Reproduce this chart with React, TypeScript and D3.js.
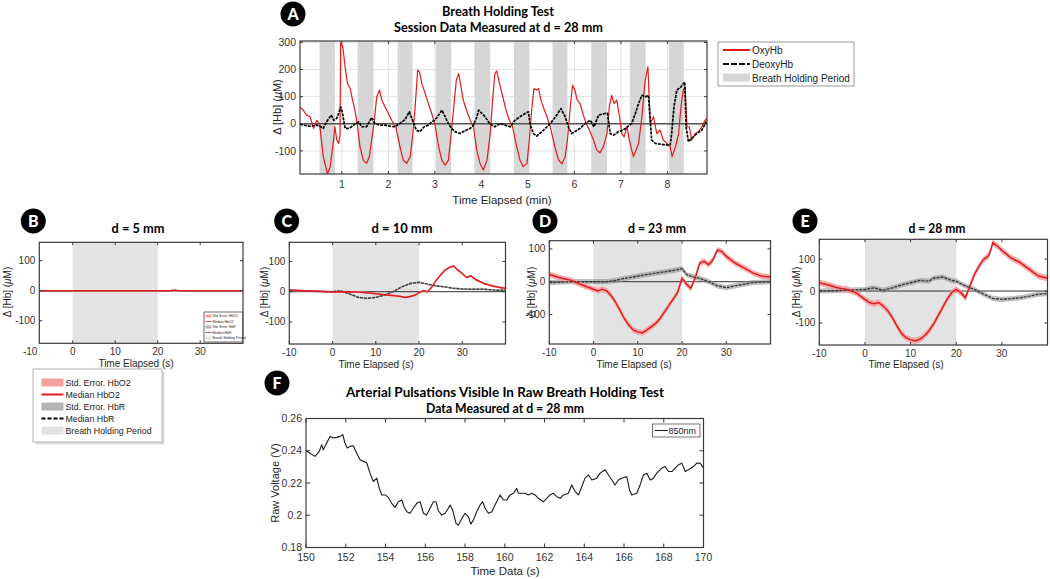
import React from 'react';
import * as d3 from 'd3';

type P = [number, number];

const FONT = "'Liberation Sans', Arial, sans-serif";
const TFONT = "Lato, 'Open Sans', sans-serif";

// ---------- Panel A data ----------
const aBreathStart = [0.52, 1.34, 2.2, 3.02, 3.85, 4.7, 5.53, 6.36, 7.19, 8.03];
const aBreathEnd = [0.85, 1.68, 2.52, 3.35, 4.19, 5.03, 5.85, 6.7, 7.53, 8.35];
const aXTicks = [1, 2, 3, 4, 5, 6, 7, 8];
const aYTicks = [-100, 0, 100, 200, 300];
const oxyA: P[] = [
  [0.1, 62], [0.17, 50], [0.24, 32], [0.32, 26], [0.39, -17], [0.46, 13], [0.52, 0], [0.6, -120], [0.69, -185], [0.75, -158],
  [0.82, -60], [0.85, -10], [0.89, -60], [0.93, -72], [0.96, -40], [0.975, 300], [1.02, 283], [1.07, 210], [1.12, 148], [1.18, 130],
  [1.23, 87], [1.28, 50], [1.33, 0], [1.39, -85], [1.46, -134], [1.53, -146], [1.59, -121], [1.64, -60], [1.69, 0], [1.75, 100],
  [1.81, 124], [1.86, 87], [1.93, 62], [2.0, 38], [2.07, 13], [2.16, -11], [2.25, -85], [2.32, -134], [2.39, -146], [2.47, -121],
  [2.52, -48], [2.57, 50], [2.63, 197], [2.67, 191], [2.72, 148], [2.79, 112], [2.86, 75], [2.93, 38], [3.0, 0], [3.08, -85],
  [3.15, -134], [3.22, -152], [3.29, -134], [3.35, -36], [3.4, 50], [3.46, 160], [3.51, 185], [3.56, 136], [3.61, 87], [3.68, 50],
  [3.76, 13], [3.83, -11], [3.9, -97], [3.97, -146], [4.04, -170], [4.12, -134], [4.19, -36], [4.24, 87], [4.29, 185], [4.33, 195],
  [4.39, 148], [4.46, 99], [4.53, 50], [4.6, 13], [4.67, -11], [4.76, -85], [4.83, -134], [4.9, -158], [4.98, -146], [5.03, -60],
  [5.08, 50], [5.13, 130], [5.19, 124], [5.23, 130], [5.28, 87], [5.33, 62], [5.41, 26], [5.48, -11], [5.58, -85], [5.66, -134],
  [5.73, -148], [5.8, -121], [5.85, -60], [5.91, 62], [5.96, 142], [6.01, 124], [6.06, 87], [6.12, 75], [6.19, 32], [6.27, -5],
  [6.32, -23], [6.41, -60], [6.48, -97], [6.55, -107], [6.62, -85], [6.7, -36], [6.75, 62], [6.8, 105], [6.85, 75], [6.91, 87],
  [6.97, 26], [7.02, -36], [7.07, -48], [7.13, -11], [7.18, -60], [7.23, -97], [7.27, -121], [7.38, -72], [7.45, 26], [7.52, 160],
  [7.58, 210], [7.63, 1], [7.7, 26], [7.77, -36], [7.84, -23], [7.91, -60], [7.99, -72], [8.06, -85], [8.1, -121], [8.18, -80],
  [8.24, -36], [8.29, 62], [8.34, 124], [8.38, 136], [8.42, -11], [8.47, -11], [8.52, -60], [8.6, -36], [8.67, -29], [8.74, -11],
  [8.81, 13], [8.85, 20],
];
const deoxyA: P[] = [
  [0.1, -1], [0.17, -5], [0.32, -9], [0.46, -5], [0.53, -9], [0.6, -17], [0.67, 7], [0.77, 32], [0.83, 13], [0.89, 20],
  [0.93, 38], [0.975, 62], [1.0, 50], [1.02, 32], [1.07, -17], [1.14, -17], [1.21, -11], [1.28, -1], [1.36, 7], [1.43, -11],
  [1.53, -11], [1.64, 23], [1.71, 1], [1.82, -5], [1.93, -5], [2.04, -9], [2.14, -11], [2.25, 1], [2.36, 16], [2.45, 44],
  [2.52, 13], [2.6, -23], [2.68, -29], [2.77, -11], [2.86, -5], [2.93, 7], [3.0, 13], [3.08, 32], [3.15, 50], [3.22, 26],
  [3.29, 1], [3.36, -17], [3.43, -29], [3.54, -36], [3.68, -23], [3.76, -17], [3.83, -5], [3.89, 20], [3.94, 50], [4.01, 38],
  [4.08, 26], [4.15, 7], [4.22, -5], [4.29, -11], [4.4, 1], [4.51, -5], [4.62, -11], [4.72, 13], [4.83, 26], [4.94, 38],
  [5.01, 44], [5.05, -5], [5.12, -36], [5.19, -45], [5.3, -29], [5.41, -11], [5.51, 7], [5.62, 32], [5.71, 56], [5.8, 26],
  [5.87, -11], [5.94, -36], [6.04, -26], [6.12, -17], [6.23, 1], [6.34, 13], [6.42, -11], [6.52, 32], [6.66, 38], [6.71, 38],
  [6.77, -36], [6.84, -42], [6.95, -29], [7.05, -23], [7.14, -11], [7.23, 1], [7.31, 38], [7.38, 75], [7.45, 105], [7.52, 99],
  [7.59, 105], [7.63, 13], [7.66, -60], [7.74, -72], [7.84, -75], [7.95, -78], [8.06, -78], [8.09, -36], [8.14, 62], [8.2, 124],
  [8.29, 136], [8.37, 154], [8.4, -11], [8.45, -66], [8.52, -54], [8.63, -36], [8.74, -23], [8.85, 13],
];

// ---------- Panels B-E data (time in s, value in uM) ----------
const sTicks = [-10, 0, 10, 20, 30];
const hbTicks = [-100, 0, 100];
const holdPeriod = [0, 20];

const redB: P[] = [[-10, 0], [20, 0], [23, 0], [24, 2], [25, 0], [40, 0]];
const blackB: P[] = [[-10, 0], [40, 0]];

const redC: P[] = [
  [-10, 5], [-5, 2], [0, -1], [3, 0], [6, -1], [9, -5], [12, -10], [15, -14], [17, -19], [19, -12], [20, -3], [21, 3],
  [22, 0], [23, 16], [24, 38], [25, 55], [26, 71], [27, 80], [28, 85], [29, 71], [30, 60], [31, 47], [32, 52], [33, 41],
  [35, 27], [37, 19], [39, 13], [40, 11],
];
const blackC: P[] = [
  [-10, 5], [-5, 2], [0, 0], [2, 3], [4, -8], [6, -19], [8, -22], [10, -19], [12, -11], [14, 0], [16, 16], [18, 27],
  [20, 31], [22, 25], [24, 19], [26, 16], [28, 11], [30, 9], [32, 8], [35, 8], [38, 5], [40, 5],
];
const redD: P[] = [
  [-10, 22], [-7, 10], [-5, 4], [-3, -8], [0, -23], [1, -28], [2, -23], [3, -28], [4, -43], [5, -63], [6, -88], [7, -113],
  [8, -133], [9, -148], [10, -153], [11, -156], [12, -148], [13, -138], [14, -128], [15, -113], [16, -93], [17, -73],
  [18, -53], [19, -33], [20, 10], [21, -8], [22, -20], [23, 12], [24, 57], [25, 62], [26, 52], [27, 67], [28, 97], [29, 92],
  [30, 77], [32, 57], [34, 42], [36, 27], [38, 17], [40, 14],
];
const blackD: P[] = [
  [-10, -3], [-5, 0], [0, 0], [3, 0], [5, 4], [7, 10], [10, 17], [13, 24], [16, 30], [18, 34], [20, 40], [21, 22], [22, 17],
  [24, 10], [26, 0], [28, -13], [30, -18], [33, -10], [36, -3], [40, 0],
];
const redE: P[] = [
  [-10, 26], [-8, 19], [-6, 10], [-4, 5], [-2, -5], [0, -26], [1, -36], [2, -40], [3, -36], [4, -47], [5, -62], [6, -83],
  [7, -109], [8, -133], [9, -146], [10, -153], [11, -156], [12, -151], [13, -141], [14, -125], [15, -104], [16, -78],
  [17, -52], [18, -26], [19, -5], [20, 5], [21, -5], [22, -21], [23, 16], [24, 52], [25, 78], [26, 99], [27, 109],
  [27.5, 125], [28, 151], [29, 141], [30, 127], [32, 104], [34, 89], [36, 68], [38, 47], [40, 40],
];
const blackE: P[] = [
  [-10, 0], [-5, 2], [0, 5], [2, 10], [4, 2], [6, 10], [8, 19], [10, 26], [12, 33], [14, 31], [15, 40], [17, 44], [19, 33],
  [20, 31], [21, 23], [22, 16], [24, 5], [26, -10], [28, -23], [30, -26], [32, -24], [34, -21], [36, -16], [38, -10], [40, -8],
];
// std-error half widths
const seC = [3, 3];
const seD = [9, 8];
const seE = [10, 8];

// ---------- Panel F data ----------
const fXTicks = [150, 152, 154, 156, 158, 160, 162, 164, 166, 168, 170];
const fYTicks = [0.18, 0.2, 0.22, 0.24, 0.26];
const fTime = [
  150.0, 150.2, 150.45, 150.67, 150.79, 150.87, 151.04, 151.21, 151.38, 151.54, 151.71, 151.85, 151.96, 152.08, 152.21,
  152.38, 152.55, 152.72, 152.89, 153.05, 153.22, 153.39, 153.56, 153.69, 153.81, 153.98, 154.14, 154.31, 154.48, 154.65,
  154.82, 154.93, 155.07, 155.23, 155.4, 155.57, 155.74, 155.91, 156.07, 156.24, 156.41, 156.54, 156.66, 156.83, 157.0,
  157.16, 157.25, 157.38, 157.55, 157.67, 157.84, 158.0, 158.17, 158.29, 158.42, 158.59, 158.76, 158.89, 159.01, 159.18,
  159.35, 159.51, 159.68, 159.77, 159.93, 160.1, 160.27, 160.44, 160.6, 160.69, 160.86, 161.02, 161.19, 161.36, 161.53,
  161.69, 161.95, 162.11, 162.28, 162.45, 162.62, 162.79, 162.95, 163.2, 163.37, 163.54, 163.71, 163.88, 164.04, 164.21,
  164.38, 164.63, 164.8, 165.05, 165.22, 165.39, 165.55, 165.72, 165.89, 166.14, 166.28, 166.39, 166.64, 166.81, 166.98,
  167.15, 167.32, 167.48, 167.65, 167.9, 168.07, 168.24, 168.41, 168.57, 168.74, 168.91, 169.08, 169.24, 169.5, 169.66,
  169.83, 170.0,
];
const fVolt = [
  0.24, 0.2385, 0.2365, 0.2396, 0.2437, 0.2406, 0.2448, 0.2489, 0.2479, 0.2483, 0.2489, 0.25, 0.2448, 0.2417, 0.2427,
  0.2431, 0.2385, 0.2344, 0.2334, 0.2327, 0.2261, 0.2209, 0.223, 0.2167, 0.2126, 0.2126, 0.2111, 0.2074, 0.2049, 0.2084,
  0.2095, 0.2053, 0.2022, 0.2012, 0.2043, 0.2074, 0.2084, 0.2012, 0.2001, 0.2043, 0.2084, 0.2084, 0.2028, 0.2001, 0.2012,
  0.2043, 0.2064, 0.2032, 0.1949, 0.1939, 0.198, 0.2012, 0.1991, 0.1945, 0.197, 0.2022, 0.2064, 0.2084, 0.2043, 0.2012,
  0.2022, 0.2064, 0.2105, 0.2126, 0.2095, 0.2095, 0.2126, 0.2136, 0.2167, 0.2136, 0.2136, 0.2136, 0.2126, 0.2136, 0.2126,
  0.2105, 0.2084, 0.2105, 0.2126, 0.2136, 0.2115, 0.2105, 0.2126, 0.2136, 0.2188, 0.2147, 0.2126, 0.2178, 0.223, 0.225,
  0.2219, 0.223, 0.2261, 0.2282, 0.225, 0.2219, 0.2188, 0.2219, 0.223, 0.224, 0.2157, 0.2126, 0.2136, 0.2188, 0.225,
  0.2261, 0.2219, 0.223, 0.2261, 0.2292, 0.2302, 0.2271, 0.2271, 0.2292, 0.2313, 0.2323, 0.2271, 0.2282, 0.2302, 0.2323,
  0.2323, 0.2292,
];

// ---------- colours ----------
const RED = '#e3191c';
const PINK = '#f3a0a0';
const HOLD = '#e3e3e3';
const HOLD_A = '#d6d6d6';
const AXC = '#3a3a3a';

type Frame = { x0: number; x1: number; y0: number; y1: number };

function Badge({ x, y, label }: { x: number; y: number; label: string }) {
  return (
    <g>
      <circle cx={x} cy={y} r={12.5} fill="#000" />
      <text x={x} y={y + 5.5} textAnchor="middle" fill="#fff" fontWeight={900} fontSize={16} fontFamily={TFONT}>
        {label}
      </text>
    </g>
  );
}

function HbLabel({ x, y, size }: { x: number; y: number; size: number }) {
  return (
    <text transform={`translate(${x},${y}) rotate(-90)`} textAnchor="middle" fontSize={size} fontFamily={FONT} fill="#262626">
      Δ [Hb] (<tspan fontStyle="italic">μ</tspan>M)
    </text>
  );
}

function Box({
  f, xs, ys, xTicks, yTicks, xFmt, yFmt, tick = 4, grid = false, xLabelY, yLabelX, fontSize = 10, xLabelTicks,
}: {
  f: Frame; xs: d3.ScaleLinear<number, number>; ys: d3.ScaleLinear<number, number>; xTicks: number[]; yTicks: number[];
  xFmt: (v: number) => string; yFmt: (v: number) => string; tick?: number; grid?: boolean; xLabelY: number; yLabelX: number;
  fontSize?: number; xLabelTicks?: number[];
}) {
  const xd = xs.domain();
  const inX = xTicks.filter((t) => t >= Math.min(xd[0], xd[1]) - 1e-9 && t <= Math.max(xd[0], xd[1]) + 1e-9);
  const labTicks = xLabelTicks ?? xTicks;
  return (
    <g>
      {grid && (
        <g stroke="#e2e2e2" strokeWidth={1}>
          {inX.map((t) => <line key={'gx' + t} x1={xs(t)} x2={xs(t)} y1={f.y0} y2={f.y1} />)}
          {yTicks.map((t) => <line key={'gy' + t} x1={f.x0} x2={f.x1} y1={ys(t)} y2={ys(t)} />)}
        </g>
      )}
      <g stroke={AXC} strokeWidth={1}>
        {inX.map((t) => (
          <g key={'tx' + t}>
            <line x1={xs(t)} x2={xs(t)} y1={f.y1} y2={f.y1 - tick} />
            <line x1={xs(t)} x2={xs(t)} y1={f.y0} y2={f.y0 + tick} />
          </g>
        ))}
        {yTicks.map((t) => (
          <g key={'ty' + t}>
            <line x1={f.x0} x2={f.x0 + tick} y1={ys(t)} y2={ys(t)} />
            <line x1={f.x1} x2={f.x1 - tick} y1={ys(t)} y2={ys(t)} />
          </g>
        ))}
      </g>
      <g fontFamily={FONT} fontSize={fontSize} fill="#333">
        {labTicks.map((t) => (
          <text key={'lx' + t} x={xs(t)} y={xLabelY} textAnchor="middle">{xFmt(t)}</text>
        ))}
        {yTicks.map((t) => (
          <text key={'ly' + t} x={yLabelX} y={ys(t) + fontSize * 0.35} textAnchor="end">{yFmt(t)}</text>
        ))}
      </g>
    </g>
  );
}

function FrameRect({ f }: { f: Frame }) {
  return <rect x={f.x0} y={f.y0} width={f.x1 - f.x0} height={f.y1 - f.y0} fill="none" stroke={AXC} strokeWidth={1.2} />;
}

function PanelA() {
  const f: Frame = { x0: 300, x1: 707, y0: 41, y1: 174 };
  const xs = d3.scaleLinear().domain([0.1, 8.85]).range([f.x0, f.x1]);
  const ys = d3.scaleLinear().domain([-185, 305]).range([f.y1, f.y0]);
  const line = d3.line<P>().x((d) => xs(d[0])).y((d) => ys(d[1]));
  return (
    <g>
      <defs>
        <clipPath id="clipA"><rect x={f.x0} y={f.y0} width={f.x1 - f.x0} height={f.y1 - f.y0} /></clipPath>
      </defs>
      <rect x={f.x0} y={f.y0} width={f.x1 - f.x0} height={f.y1 - f.y0} fill="#fff" />
      <Box f={f} xs={xs} ys={ys} xTicks={aXTicks} yTicks={aYTicks} xFmt={(v) => String(v)} yFmt={(v) => String(v)} grid
        xLabelY={188} yLabelX={296} fontSize={10.5} tick={3} />
      <g clipPath="url(#clipA)">
        {aBreathStart.map((s, i) => (
          <rect key={i} x={xs(s)} y={f.y0} width={xs(aBreathEnd[i]) - xs(s)} height={f.y1 - f.y0} fill={HOLD_A} />
        ))}
        <line x1={f.x0} x2={f.x1} y1={ys(0)} y2={ys(0)} stroke="#555" strokeWidth={1.5} />
        <path d={line(oxyA) ?? ''} fill="none" stroke={RED} strokeWidth={1.2} strokeLinejoin="round" />
        <path d={line(deoxyA) ?? ''} fill="none" stroke="#000" strokeWidth={1.7} strokeDasharray="3 1" strokeLinejoin="round" />
      </g>
      <FrameRect f={f} />
      <Badge x={293} y={14} label="A" />
      <text x={498} y={16} textAnchor="middle" fontFamily={TFONT} fontWeight="bold" fontSize={13} textLength={112} lengthAdjust="spacingAndGlyphs">Breath Holding Test</text>
      <text x={498.5} y={32} textAnchor="middle" fontFamily={TFONT} fontWeight="bold" fontSize={13} textLength={209} lengthAdjust="spacingAndGlyphs">Session Data Measured at d = 28 mm</text>
      <HbLabel x={281} y={107} size={11} />
      <text x={502} y={204} textAnchor="middle" fontFamily={FONT} fontSize={11.5} fill="#262626">Time Elapsed (min)</text>
      {/* legend */}
      <rect x={718} y={42} width={136} height={44} fill="#fff" stroke="#999" strokeWidth={1} />
      <line x1={723} x2={750} y1={50} y2={50} stroke={RED} strokeWidth={2} />
      <line x1={723} x2={750} y1={64} y2={64} stroke="#000" strokeWidth={2} strokeDasharray="6 2" />
      <rect x={723} y={73.5} width={27} height={8} fill={HOLD_A} />
      <g fontFamily={FONT} fontSize={10} fill="#222">
        <text x={752} y={53.5}>OxyHb</text>
        <text x={752} y={67.5}>DeoxyHb</text>
        <text x={752} y={81.5}>Breath Holding Period</text>
      </g>
    </g>
  );
}

function SmallPanel({
  id, f, xDomain, yDomain, red, black, se, badge, badgeX, title, titleX, titleW, yLabX, xLabX, xLabY, children,
}: {
  id: string; f: Frame; xDomain: [number, number]; yDomain: [number, number]; red: P[]; black: P[]; se: number[] | null;
  badge: string; badgeX: number; title: string; titleX: number; titleW: number; yLabX: number; xLabX: number; xLabY: number;
  children?: React.ReactNode;
}) {
  const xs = d3.scaleLinear().domain(xDomain).range([f.x0, f.x1]);
  const ys = d3.scaleLinear().domain(yDomain).range([f.y1, f.y0]);
  const line = d3.line<P>().x((d) => xs(d[0])).y((d) => ys(d[1]));
  const band = (w: number) => d3.area<P>().x((d) => xs(d[0])).y0((d) => ys(d[1] - w)).y1((d) => ys(d[1] + w));
  return (
    <g>
      <defs>
        <clipPath id={'clip' + id}><rect x={f.x0} y={f.y0} width={f.x1 - f.x0} height={f.y1 - f.y0} /></clipPath>
      </defs>
      <rect x={f.x0} y={f.y0} width={f.x1 - f.x0} height={f.y1 - f.y0} fill="#fff" />
      <g clipPath={`url(#clip${id})`}>
        <rect x={xs(holdPeriod[0])} y={f.y0} width={xs(holdPeriod[1]) - xs(holdPeriod[0])} height={f.y1 - f.y0} fill={HOLD} />
        <line x1={f.x0} x2={f.x1} y1={ys(0)} y2={ys(0)} stroke="#333" strokeWidth={1} />
        {se && <path d={band(se[1])(black) ?? ''} fill="#8a8a8a" opacity={0.55} />}
        {se && <path d={band(se[0])(red) ?? ''} fill={PINK} opacity={0.85} />}
        <path d={line(black) ?? ''} fill="none" stroke="#3c3c3c" strokeWidth={1.4} strokeDasharray="3 1" />
        <path d={line(red) ?? ''} fill="none" stroke={RED} strokeWidth={1.5} />
      </g>
      <Box f={f} xs={xs} ys={ys} xTicks={sTicks} yTicks={hbTicks} xFmt={(v) => String(v)} yFmt={(v) => String(v)}
        xLabelY={f.y1 + 11.5} yLabelX={f.x0 - 4} fontSize={10} tick={3} />
      <FrameRect f={f} />
      <Badge x={badgeX} y={221} label={badge} />
      <text x={titleX} y={233} textAnchor="middle" fontFamily={TFONT} fontWeight="bold" fontSize={13} textLength={titleW} lengthAdjust="spacingAndGlyphs">{title}</text>
      <HbLabel x={yLabX} y={292} size={10} />
      <text x={xLabX} y={xLabY} textAnchor="middle" fontFamily={FONT} fontSize={10} fill="#262626">Time Elapsed (s)</text>
      {children}
    </g>
  );
}

const legendItems = ['Std. Error. HbO2', 'Median HbO2', 'Std. Error. HbR', 'Median HbR', 'Breath Holding Period'];

function LegendSwatch({ i, x, y, w, h }: { i: number; x: number; y: number; w: number; h: number }) {
  if (i === 0) return <rect x={x} y={y - h / 2} width={w} height={h} fill={PINK} />;
  if (i === 1) return <line x1={x} x2={x + w} y1={y} y2={y} stroke={RED} strokeWidth={Math.max(0.5, h / 4)} />;
  if (i === 2) return <rect x={x} y={y - h / 2} width={w} height={h} fill="#b4b4b4" />;
  if (i === 3) return <line x1={x} x2={x + w} y1={y} y2={y} stroke="#000" strokeWidth={Math.max(0.5, h / 4)} strokeDasharray={`${h / 2} ${h / 4}`} />;
  return <rect x={x} y={y - h / 2} width={w} height={h} fill={HOLD} />;
}

function BigLegend() {
  return (
    <g>
      <rect x={34} y={370} width={129} height={73} fill="#bbb" opacity={0.5} transform="translate(1.5,1.5)" />
      <rect x={33} y={369} width={129} height={73} fill="#fff" stroke="#b5b5b5" strokeWidth={1} />
      {legendItems.map((t, i) => (
        <g key={t}>
          <LegendSwatch i={i} x={41.5} y={382.5 + i * 12} w={22} h={8} />
          <text x={65.5} y={385.8 + i * 12} fontFamily={FONT} fontSize={8.8} fill="#222">{t}</text>
        </g>
      ))}
    </g>
  );
}

function TinyLegend() {
  const x0 = 204, y0 = 312, w = 38.5, h = 30;
  return (
    <g>
      <rect x={x0} y={y0} width={w} height={h} fill="#fff" stroke="#444" strokeWidth={0.8} />
      {legendItems.map((t, i) => (
        <g key={t}>
          <LegendSwatch i={i} x={x0 + 1.5} y={y0 + 4 + i * 5.5} w={6} h={3} />
          <text x={x0 + 8.5} y={y0 + 5.2 + i * 5.5} fontFamily={FONT} fontSize={3.4} fill="#222">{t}</text>
        </g>
      ))}
    </g>
  );
}

function PanelF() {
  const f: Frame = { x0: 306, x1: 703.5, y0: 418.5, y1: 547.5 };
  const xs = d3.scaleLinear().domain([150, 170]).range([f.x0, f.x1]);
  const ys = d3.scaleLinear().domain([0.18, 0.26]).range([f.y1, f.y0]);
  const pts: P[] = fTime.map((t, i) => [t, fVolt[i]]);
  const line = d3.line<P>().x((d) => xs(d[0])).y((d) => ys(d[1]));
  const fmtY = (v: number) => (Math.abs(v - 0.2) < 1e-9 ? '0.2' : v.toFixed(2));
  return (
    <g>
      <rect x={f.x0} y={f.y0} width={f.x1 - f.x0} height={f.y1 - f.y0} fill="#fff" />
      <Box f={f} xs={xs} ys={ys} xTicks={fXTicks} yTicks={fYTicks} xFmt={(v) => String(v)} yFmt={fmtY}
        xLabelY={560.5} yLabelX={302} fontSize={10.5} tick={4} />
      <path d={line(pts) ?? ''} fill="none" stroke="#1a1a1a" strokeWidth={1.1} strokeLinejoin="round" />
      <FrameRect f={f} />
      <rect x={652.5} y={424} width={47.5} height={13} fill="#fff" stroke="#555" strokeWidth={0.8} />
      <line x1={655} x2={668} y1={430.5} y2={430.5} stroke="#1a1a1a" strokeWidth={1} />
      <text x={668.5} y={434} fontFamily={FONT} fontSize={9} fill="#222">850nm</text>
      <Badge x={277} y={383} label="F" />
      <text x={505} y={397} textAnchor="middle" fontFamily={TFONT} fontWeight="bold" fontSize={13} textLength={318} lengthAdjust="spacingAndGlyphs">Arterial Pulsations Visible In Raw Breath Holding Test</text>
      <text x={505} y={413} textAnchor="middle" fontFamily={TFONT} fontWeight="bold" fontSize={13} textLength={158} lengthAdjust="spacingAndGlyphs">Data Measured at d = 28 mm</text>
      <text transform="translate(279,483) rotate(-90)" textAnchor="middle" fontFamily={FONT} fontSize={11} fill="#262626">Raw Voltage (V)</text>
      <text x={505} y={575} textAnchor="middle" fontFamily={FONT} fontSize={11.5} fill="#262626">Time Data (s)</text>
    </g>
  );
}

export default function App() {
  return (
    <svg width={1050} height={579} viewBox="0 0 1050 579" style={{ display: 'block', position: 'absolute', left: 0, top: 0, background: '#fff' }}>
      <rect width={1050} height={579} fill="#fff" />
      <PanelA />
      <SmallPanel id="B" f={{ x0: 39.3, x1: 243, y0: 242.3, y1: 343.3 }} xDomain={[-7.86, 40.07]} yDomain={[-175, 161]}
        red={redB} black={blackB} se={null} badge="B" badgeX={33.3} title="d = 5 mm" titleX={138} titleW={53}
        yLabX={11} xLabX={136} xLabY={367} >
        <TinyLegend />
      </SmallPanel>
      <SmallPanel id="C" f={{ x0: 289.3, x1: 505.5, y0: 242.3, y1: 344 }} xDomain={[-10, 40]} yDomain={[-172.6, 163]}
        red={redC} black={blackC} se={seC} badge="C" badgeX={286.7} title="d = 10 mm" titleX={402} titleW={61}
        yLabX={268} xLabX={376} xLabY={368} />
      <SmallPanel id="D" f={{ x0: 549.3, x1: 770.5, y0: 240.7, y1: 344 }} xDomain={[-10, 40]} yDomain={[-190, 125]}
        red={redD} black={blackD} se={seD} badge="D" badgeX={545} title="d = 23 mm" titleX={657} titleW={58}
        yLabX={535} xLabX={634} xLabY={368} />
      <SmallPanel id="E" f={{ x0: 819.3, x1: 1047.5, y0: 239.3, y1: 345 }} xDomain={[-10, 40]} yDomain={[-169, 162]}
        red={redE} black={blackE} se={seE} badge="E" badgeX={805} title="d = 28 mm" titleX={937} titleW={57}
        yLabX={800} xLabX={906} xLabY={368} />
      <BigLegend />
      <PanelF />
    </svg>
  );
}
